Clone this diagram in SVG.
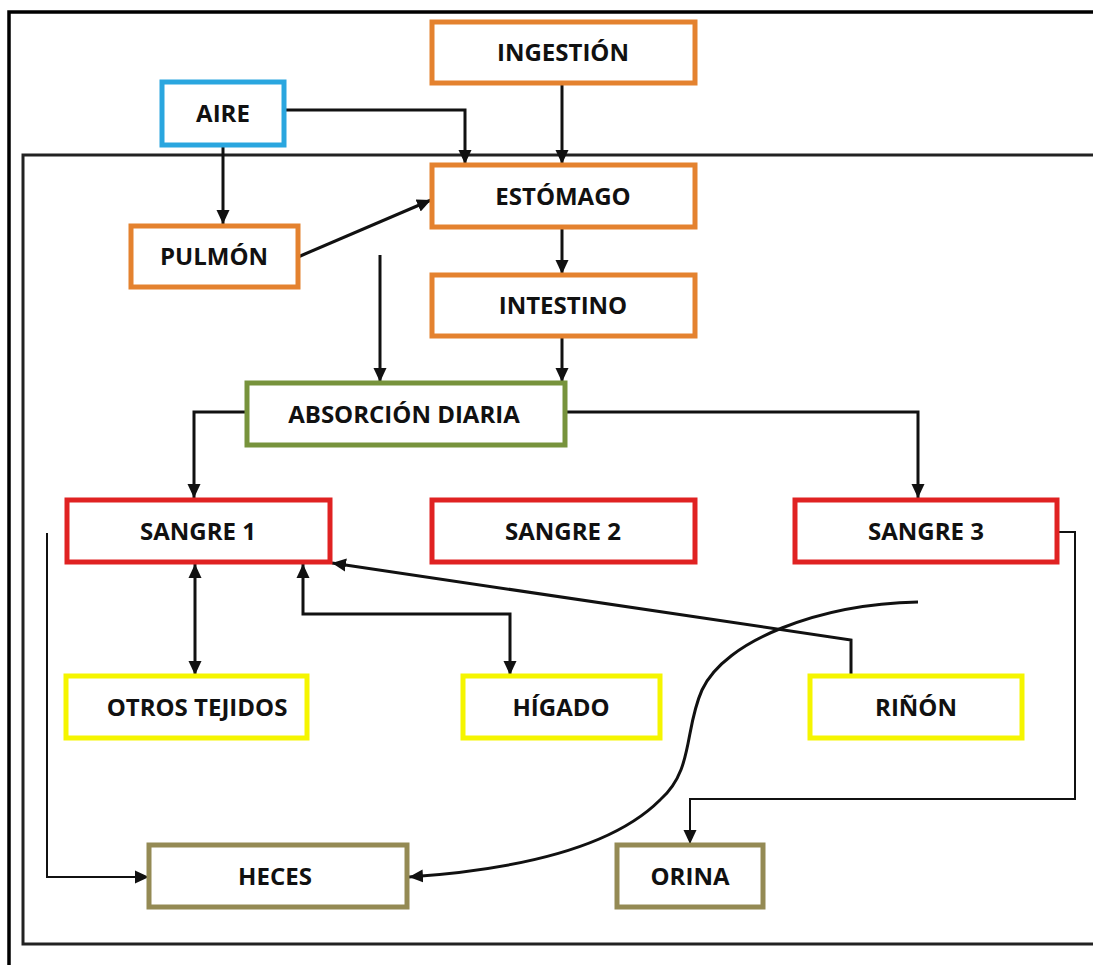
<svg xmlns="http://www.w3.org/2000/svg" width="1093" height="965" viewBox="0 0 1093 965">
<style>
.n{fill:#ffffff;stroke-width:5}
.or{stroke:#e4822f}
.bl{stroke:#2aa6df}
.gr{stroke:#77933c}
.rd{stroke:#e02222}
.ye{stroke:#f5f500}
.kh{stroke:#948a54}
.t{font-family:"Open Sans","Liberation Sans",sans-serif;font-weight:700;font-size:24px;fill:#111;text-anchor:middle}
.c{fill:none;stroke:#111;stroke-width:3}
.th{stroke-width:2}
</style>
<defs>
<marker id="ah" markerUnits="userSpaceOnUse" markerWidth="15" markerHeight="15" viewBox="0 0 15 15" refX="14" refY="7.5" orient="auto-start-reverse">
<path d="M0,1 L14,7.5 L0,14 z" fill="#111"/>
</marker>
</defs>
<rect x="0" y="0" width="1093" height="965" fill="#ffffff"/>
<rect x="9" y="12" width="1200" height="1100" fill="none" stroke="#000" stroke-width="3.5"/>
<rect x="23" y="155" width="1200" height="789" fill="none" stroke="#222" stroke-width="3"/>

<g id="connectors">
<path class="c" d="M562,83 V164" marker-end="url(#ah)"/>
<path class="c" d="M284,110 H465 V164" marker-end="url(#ah)"/>
<path class="c" d="M223,145 V224" marker-end="url(#ah)"/>
<path class="c" d="M298,257 L431,200" marker-end="url(#ah)"/>
<path class="c" d="M380,255 V382" marker-end="url(#ah)"/>
<path class="c" d="M562,228 V274" marker-end="url(#ah)"/>
<path class="c" d="M562,336 V382" marker-end="url(#ah)"/>
<path class="c" d="M247,412 H194 V498" marker-end="url(#ah)"/>
<path class="c" d="M565,412 H918 V498" marker-end="url(#ah)"/>
<path class="c" d="M195,564 V675" marker-start="url(#ah)" marker-end="url(#ah)"/>
<path class="c" d="M303,564 V614 H510 V675" marker-start="url(#ah)" marker-end="url(#ah)"/>
<path class="c" d="M851,676 V640 L332,563" marker-end="url(#ah)"/>
<path class="c th" d="M1057,532 H1075 V799 H690 V844" marker-end="url(#ah)"/>
<path class="c th" d="M47,533 V877 H149" marker-end="url(#ah)"/>
<path class="c" d="M918,602 C820,604 725,640 702,690 C684,730 694,770 660,800 C620,840 540,868 409,877" marker-end="url(#ah)"/>
</g>

<g id="ingestion"><rect class="n or" x="432" y="22" width="263" height="61"/><text class="t" x="563" y="61">INGESTIÓN</text></g>
<g id="aire"><rect class="n bl" x="162" y="82" width="122" height="63"/><text class="t" x="223" y="122">AIRE</text></g>
<g id="estomago"><rect class="n or" x="432" y="165" width="263" height="62"/><text class="t" x="563" y="205">ESTÓMAGO</text></g>
<g id="pulmon"><rect class="n or" x="131" y="226" width="167" height="61"/><text class="t" x="214" y="265">PULMÓN</text></g>
<g id="intestino"><rect class="n or" x="432" y="275" width="263" height="61"/><text class="t" x="563" y="314">INTESTINO</text></g>
<g id="absorcion"><rect class="n gr" x="247" y="383" width="318" height="62"/><text class="t" x="404" y="423">ABSORCIÓN DIARIA</text></g>
<g id="sangre1"><rect class="n rd" x="67" y="500" width="263" height="62"/><text class="t" x="198" y="540">SANGRE 1</text></g>
<g id="sangre2"><rect class="n rd" x="432" y="500" width="263" height="62"/><text class="t" x="563" y="540">SANGRE 2</text></g>
<g id="sangre3"><rect class="n rd" x="795" y="500" width="262" height="62"/><text class="t" x="926" y="540">SANGRE 3</text></g>
<g id="otros"><rect class="n ye" x="66" y="676" width="241" height="62"/><text class="t" x="197" y="716">OTROS TEJIDOS</text></g>
<g id="higado"><rect class="n ye" x="463" y="676" width="197" height="62"/><text class="t" x="561" y="716">HÍGADO</text></g>
<g id="rinon"><rect class="n ye" x="810" y="676" width="212" height="62"/><text class="t" x="916" y="716">RIÑÓN</text></g>
<g id="heces"><rect class="n kh" x="149" y="845" width="258" height="62"/><text class="t" x="275" y="885">HECES</text></g>
<g id="orina"><rect class="n kh" x="617" y="845" width="146" height="62"/><text class="t" x="690" y="885">ORINA</text></g>
</svg>
